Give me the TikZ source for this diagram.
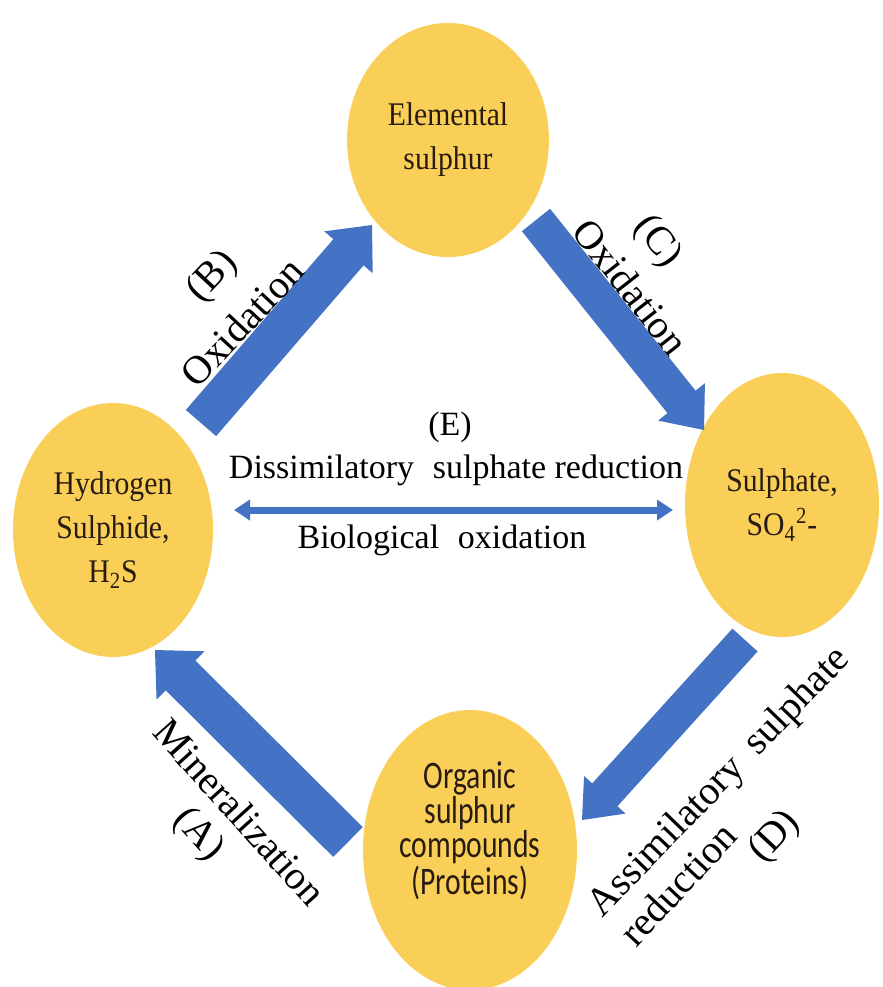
\documentclass[tikz,border=0pt]{standalone}
\usepackage{fontspec}
\setmainfont{Liberation Serif}
\newfontfamily\calibrifont[FakeStretch=0.76]{Carlito}
\newfontfamily\blobfont[FakeStretch=0.9]{Liberation Serif}
\usetikzlibrary{shapes.geometric,calc,arrows.meta}
\definecolor{blobfill}{RGB}{250,207,88}
\definecolor{arrowblue}{RGB}{68,114,196}
\definecolor{nodetext}{RGB}{40,28,18}
\newcommand{\fatarrow}[5]{%
  \path ($(#2)!#5!(#1)$) coordinate (fatH);
  \fill[bigarrow] ($(#1)!#3!90:(#2)$) -- ($(fatH)!#3!90:(#2)$) -- ($(fatH)!#4!90:(#2)$) -- (#2)
    -- ($(fatH)!#4!-90:(#2)$) -- ($(fatH)!#3!-90:(#2)$) -- ($(#1)!#3!-90:(#2)$) -- cycle;
}
\begin{document}
\begin{tikzpicture}[x=0.5pt,y=-0.5pt,
  blob/.style={ellipse, fill=blobfill, draw=none, inner sep=0pt, align=center, text=nodetext, font=\blobfont\fontsize{16.5}{22}\selectfont},
  orgtext/.style={align=center, text=nodetext, inner sep=0pt, font=\calibrifont\fontsize{19.5}{17.25}\selectfont},
  rotlabel/.style={font=\fontsize{20}{24}\selectfont, inner sep=0pt},
  elabel/.style={font=\fontsize{17}{20}\selectfont, inner sep=0pt},
  bigarrow/.style={fill=arrowblue},
  thinarrow/.style={draw=arrowblue, line width=3.5pt, {Triangle[length=8pt,width=10pt]}-{Triangle[length=8pt,width=10pt]}}
]
\fill[white] (0,0) rectangle (883,987);
\useasboundingbox (0,0) rectangle (883,987);

% ellipses
\node[blob, minimum width=101pt, minimum height=117pt] (elem) at (448,140) {Elemental\\sulphur};
\node[blob, minimum width=100pt, minimum height=127pt] (h2s) at (113,530) {Hydrogen\\Sulphide,\\H\textsubscript{2}S};
\node[blob, minimum width=97pt, minimum height=132pt] (so4) at (782,505) {Sulphate,\\SO\textsubscript{4}\textsuperscript{2}-};
\node[blob, minimum width=107pt, minimum height=140pt] (org) at (470,850) {};
\node[orgtext] (orgt) at (470,831) {Organic\\sulphur\\compounds\\(Proteins)};

% arrow end points
\coordinate (bT) at (201,423);
\coordinate (bH) at (372,225);
\coordinate (cT) at (536,220);
\coordinate (cH) at (704,430);
\coordinate (aT) at (348,842);
\coordinate (aH) at (155,650);
\coordinate (dT) at (745,640);
\coordinate (dH) at (582,820);
\coordinate (eL) at (234,510);
\coordinate (eR) at (673,510);

\fatarrow{bT}{bH}{10pt}{16pt}{18pt}
\fatarrow{cT}{cH}{9pt}{15pt}{18pt}
\fatarrow{aT}{aH}{10.5pt}{17pt}{18pt}
\fatarrow{dT}{dH}{8.5pt}{14pt}{17pt}

\draw[thinarrow] (eL) -- (eR);

% labels
\node[rotlabel, rotate=47] (lb) at (213,277) {(B)};
\node[rotlabel, rotate=47] (ob) at (242,322) {Oxidation};
\node[rotlabel, rotate=-52] (lc) at (657,242) {(C)};
\node[rotlabel, rotate=-52] (oc) at (631,287) {Oxidation};
\node[rotlabel, rotate=-48] (mA) at (240,812) {Mineralization};
\node[rotlabel, rotate=-48] (la) at (198,835) {(A)};
\node[rotlabel, rotate=46] (as) at (720,783) {Assimilatory\hspace{0.2em} sulphate};
\node[rotlabel, rotate=47] (rd) at (678,884) {reduction};
\node[rotlabel, rotate=47] (ld) at (775,837) {(D)};

\node[elabel] (le) at (450,427) {(E)};
\node[elabel] (dis) at (456,470) {Dissimilatory\hspace{0.3em} sulphate reduction};
\node[elabel] (bio) at (442,540) {Biological\hspace{0.3em} oxidation};
\end{tikzpicture}
\end{document}
